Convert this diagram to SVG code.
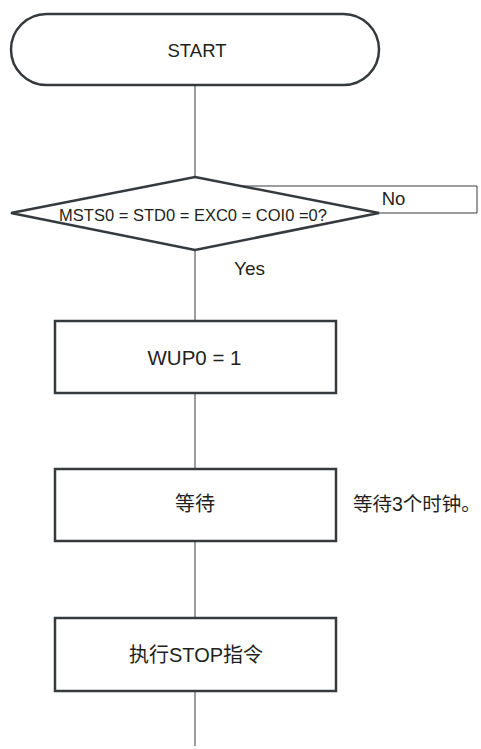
<svg xmlns="http://www.w3.org/2000/svg" width="481" height="749" viewBox="0 0 481 749">
<style>
.shape{fill:#fff;stroke:#363a3d;stroke-width:2.5}
.line{fill:none;stroke:#363a3d;stroke-width:1}
text{font-family:"Liberation Sans",Arial,"Noto Sans CJK SC",sans-serif;font-size:20px;fill:#231f20;text-anchor:middle}
</style>
<defs>
<marker id="arr" markerWidth="8" markerHeight="6" refX="8" refY="3" orient="auto" markerUnits="userSpaceOnUse">
<path d="M0,0 L8,3 L0,6 Z" fill="#363a3d"/>
</marker>
</defs>
<g id="connectors">
<line class="line" x1="195" y1="85" x2="195" y2="177"/>
<line class="line" x1="195" y1="250" x2="195" y2="321"/>
<line class="line" x1="195" y1="393" x2="195" y2="469"/>
<line class="line" x1="195" y1="541" x2="195" y2="618"/>
<line class="line" x1="195" y1="691" x2="195" y2="746"/>
<polyline class="line" points="379,213 477,213 477,186 197,186" marker-end="url(#arr)"/>
<text x="393.5" y="205" style="font-size:18.5px">No</text>
<text x="249.5" y="275" style="font-size:19px">Yes</text>
</g>
<g id="start">
<rect class="shape" x="11" y="14" width="368" height="71" rx="35.5" ry="35.5"/>
<text x="197" y="57" style="font-size:18.5px">START</text>
</g>
<g id="decision">
<polygon class="shape" points="195,177 379,213 195,250 11,213"/>
<text x="193" y="220.5" style="font-size:16.5px">MSTS0 = STD0 = EXC0 = COI0 =0?</text>
</g>
<g id="wup">
<rect class="shape" x="55" y="321" width="281" height="72"/>
<text x="194.5" y="365" style="font-size:20.5px">WUP0 = 1</text>
</g>
<g id="wait">
<rect class="shape" x="55" y="469" width="281" height="72"/>
<text x="195" y="511">等待</text>
</g>
<text id="wait-note" x="353" y="511" style="text-anchor:start;font-size:19.5px">等待3个时钟。</text>
<g id="stop">
<rect class="shape" x="55" y="618" width="281" height="73"/>
<text x="196" y="662">执行STOP指令</text>
</g>
</svg>
